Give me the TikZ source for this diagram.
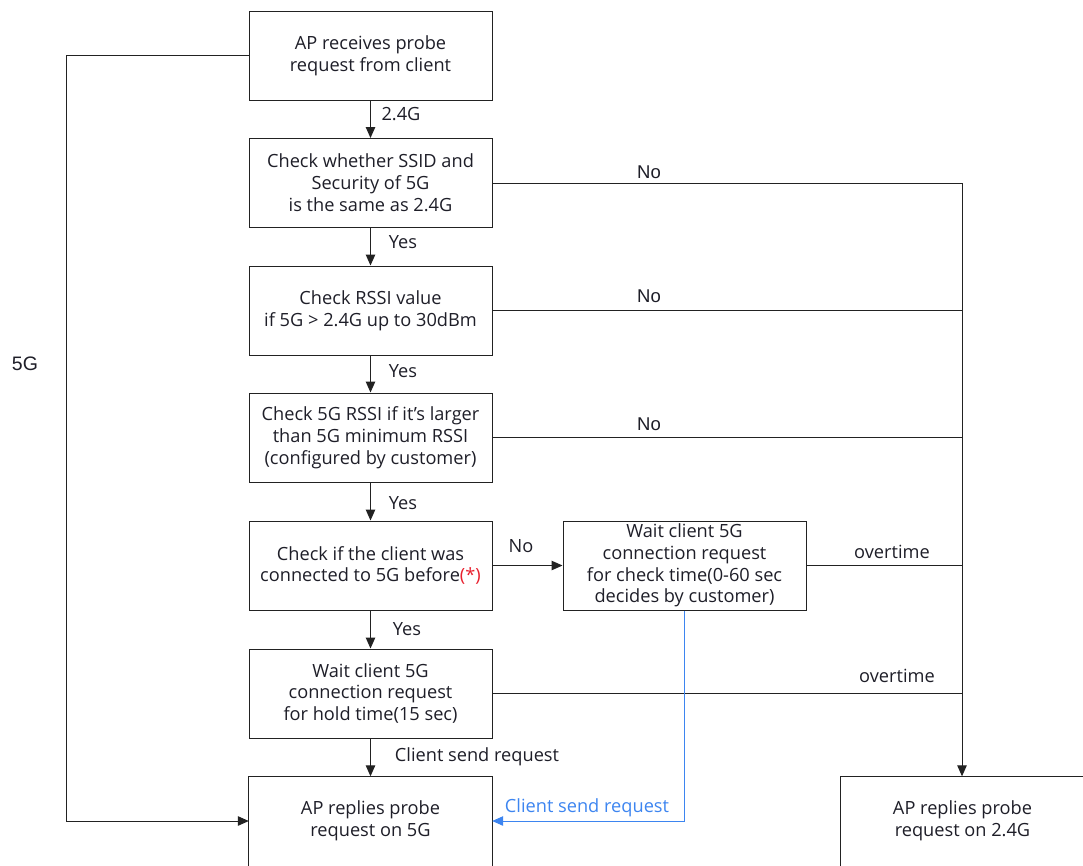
\documentclass[tikz,border=0pt]{standalone}
\usepackage{fontspec}
\setmainfont{Open Sans}
\newfontfamily\arialfont{Liberation Sans}
\usetikzlibrary{arrows.meta}
\definecolor{linkblue}{HTML}{3D85F0}
\definecolor{starred}{HTML}{E8202E}
\definecolor{txt}{HTML}{1E1E28}
\definecolor{edge}{HTML}{222222}
\begin{document}
\begin{tikzpicture}[x=1pt,y=-1pt,
  box/.style={draw=edge,line width=1pt,minimum width=243pt,minimum height=89pt,align=center,
    font=\fontsize{18.2}{21.8}\selectfont,text=txt,inner sep=0pt},
  openbox/.style={minimum width=243pt,minimum height=89pt,align=center,
    font=\fontsize{18.2}{21.8}\selectfont,text=txt,inner sep=0pt},
  lbl/.style={font=\fontsize{18.2}{21.8}\selectfont,text=txt,inner sep=0pt},
  albl/.style={font=\arialfont\fontsize{18.5}{22}\selectfont,text=txt,inner sep=0pt},
  ln/.style={draw=edge,line width=1pt},
  arr/.style={-{Triangle[length=11pt,width=9.5pt]}}]
\useasboundingbox (0,0) rectangle (1083,865);
\clip (0,0) rectangle (1083,865);
% boxes
\node[box] (b1) at (370.5,55.5) {AP receives probe\\request from client};
\node[box] (b2) at (370.5,183) {Check whether SSID and\\Security of 5G\\is the same as 2.4G};
\node[box] (b3) at (370.5,310.5) {Check RSSI value\\if 5G > 2.4G up to 30dBm};
\node[box] (b4) at (370.5,437.5) {Check 5G RSSI if it’s larger\\than 5G minimum RSSI\\(configured by customer)};
\node[box] (b5) at (370.5,565.5) {Check if the client was\\connected to 5G before{\color{starred}(*)}};
\node[box] (ct) at (684.5,565.5) {Wait client 5G\\connection request\\for check time(0-60 sec\\decides by customer)};
\node[box] (b6) at (370.5,693.5) {Wait client 5G\\connection request\\for hold time(15 sec)};
\node[openbox] (b7) at (370.5,821) {AP replies probe\\request on 5G};
\node[openbox] (r) at (962.5,821) {AP replies probe\\request on 2.4G};
\draw[ln] ([yshift=-20pt]b7.south west) -- (b7.north west) -- (b7.north east) -- ([yshift=-20pt]b7.south east);
\draw[ln] ([yshift=-20pt]r.south west) -- (r.north west) -- ([xshift=20pt]r.north east);
% helper coordinates
\coordinate (jx) at (962,0);
\coordinate (lx) at (66,0);
% main column
\draw[ln,arr] (b1) -- (b2);
\draw[ln,arr] (b2) -- (b3);
\draw[ln,arr] (b3) -- (b4);
\draw[ln,arr] (b4) -- (b5);
\draw[ln,arr] (b5) -- (b6);
\draw[ln,arr] (b6) -- (b7);
\draw[ln,arr] (b5) -- (ct);
% right collector
\draw[ln] (b2.east) -- (b2.east -| jx);
\draw[ln] (b3.east) -- (b3.east -| jx);
\draw[ln] (b4.east) -- (b4.east -| jx);
\draw[ln] (ct.east) -- (ct.east -| jx);
\draw[ln] (b6.east) -- (b6.east -| jx);
\draw[ln,arr] (b2.east -| jx) -- (jx |- r.north);
% left 5G path
\draw[ln,arr] (b1.west) -- (b1.west -| lx) -- (lx |- b7.west) -- (b7.west);
% blue path
\draw[line width=1pt,draw=linkblue,arr] (ct.south) -- (ct.south |- b7.east) -- (b7.east);
% labels
\node[lbl] (l24) at (401,114) {2.4G};
\node[lbl] (y1) at (403,242) {Yes};
\node[lbl] (y2) at (403,371) {Yes};
\node[lbl] (y3) at (403,503) {Yes};
\node[lbl] (y4) at (407,629) {Yes};
\node[albl] (n1) at (649,172) {No};
\node[albl] (n2) at (649,296) {No};
\node[albl] (n3) at (649,424) {No};
\node[lbl] (n4) at (521,546) {No};
\node[lbl] (o1) at (892,552) {overtime};
\node[lbl] (o2) at (897,676) {overtime};
\node[lbl] (c1) at (477,757) {Client send request};
\node[lbl,text=linkblue] (c2) at (587,808) {Client send request};
\node[albl,font=\arialfont\fontsize{19.5}{22}\selectfont] (g5) at (25,364) {5G};
\end{tikzpicture}
\end{document}
